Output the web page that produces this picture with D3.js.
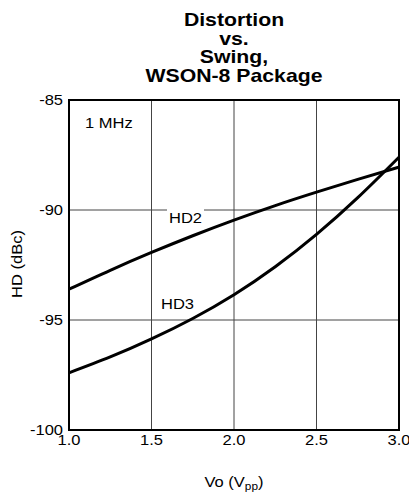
<!DOCTYPE html>
<html>
<head>
<meta charset="utf-8">
<script src="https://cdn.jsdelivr.net/npm/d3@7"></script>
<style>
  body { margin: 0; background: #fff; }
  text { font-family: "Liberation Sans", Arial, sans-serif; fill: #000; }
</style>
</head>
<body>
<script>
(function(){
    // data
    var vo  = [1.0, 1.25, 1.5, 1.75, 2.0, 2.25, 2.5, 2.75, 3.0];
    var hd2 = [-93.6, -92.74, -91.93, -91.17, -90.46, -89.8, -89.19, -88.61, -88.05];
    var hd3 = [-97.4, -96.68, -95.86, -94.93, -93.85, -92.58, -91.11, -89.44, -87.6];
    var xTicks = [1.0, 1.5, 2.0, 2.5, 3.0];
    var yTicks = [-100, -95, -90, -85];
    var titleLines = ["Distortion", "vs.", "Swing,", "WSON-8 Package"];

    var svgWidth = 409, svgHeight = 500;
    var left = 69, right = 399, top = 100, bottom = 430;
    var sx = 1.18; // text in the reference is a bit stretched sideways

    var svg = d3.select("body").append("svg")
        .attr("width", svgWidth).attr("height", svgHeight);

    var x = d3.scaleLinear().domain([1, 3]).range([left, right]);
    var y = d3.scaleLinear().domain([-100, -85]).range([bottom, top]);

    function label(px, py, str, size, anchor, weight) {
        return svg.append("text")
            .attr("transform", "translate(" + px + "," + py + ") scale(" + sx + ",1)")
            .attr("text-anchor", anchor || "start")
            .attr("font-size", size)
            .attr("font-weight", weight || "normal")
            .text(str);
    }

    // title
    titleLines.forEach(function (t, i) {
        label((left + right) / 2, 26 + i * 18.7, t, 18, "middle", "bold");
    });

    // grid
    svg.selectAll("line.vgrid").data(xTicks.slice(1, -1)).enter()
        .append("line").attr("class", "vgrid")
        .attr("x1", function (d) { return x(d); }).attr("x2", function (d) { return x(d); })
        .attr("y1", top).attr("y2", bottom)
        .attr("stroke", "#444").attr("stroke-width", 1);
    svg.selectAll("line.hgrid").data(yTicks.slice(1, -1)).enter()
        .append("line").attr("class", "hgrid")
        .attr("x1", left).attr("x2", right)
        .attr("y1", function (d) { return y(d); }).attr("y2", function (d) { return y(d); })
        .attr("stroke", "#444").attr("stroke-width", 1);

    // curves
    var line = d3.line()
        .x(function (d) { return x(d[0]); })
        .y(function (d) { return y(d[1]); })
        .curve(d3.curveNatural);
    [hd2, hd3].forEach(function (s) {
        svg.append("path")
            .datum(d3.zip(vo, s))
            .attr("d", line)
            .attr("fill", "none").attr("stroke", "#000")
            .attr("stroke-width", 3);
    });

    // frame
    svg.append("rect").attr("x", left).attr("y", top)
        .attr("width", right - left).attr("height", bottom - top)
        .attr("fill", "none").attr("stroke", "#000").attr("stroke-width", 2);

    // tick labels
    xTicks.forEach(function (d) {
        label(x(d), 445, d3.format(".1f")(d), 14, "middle");
    });
    yTicks.forEach(function (d) {
        label(63, y(d) + 5, d, 14, "end");
    });

    // curve labels
    svg.append("rect").attr("x", 167).attr("y", y(-90) - 1)
        .attr("width", 37).attr("height", 3).attr("fill", "#fff");
    label(169, 223, "HD2", 14, "start");
    label(161, 309, "HD3", 14, "start");
    label(85, 128, "1 MHz", 14, "start");

    // axis titles
    var xt = label((left + right) / 2, 487, "Vo (V", 14, "middle");
    xt.append("tspan").attr("font-size", 10).attr("dy", 3).text("pp");
    xt.append("tspan").attr("dy", -3).text(")");

    svg.append("text")
        .attr("transform", "translate(22,264) rotate(-90) scale(" + sx + ",1)")
        .attr("text-anchor", "middle").attr("font-size", 14)
        .text("HD (dBc)");
})();
</script>
</body>
</html>
